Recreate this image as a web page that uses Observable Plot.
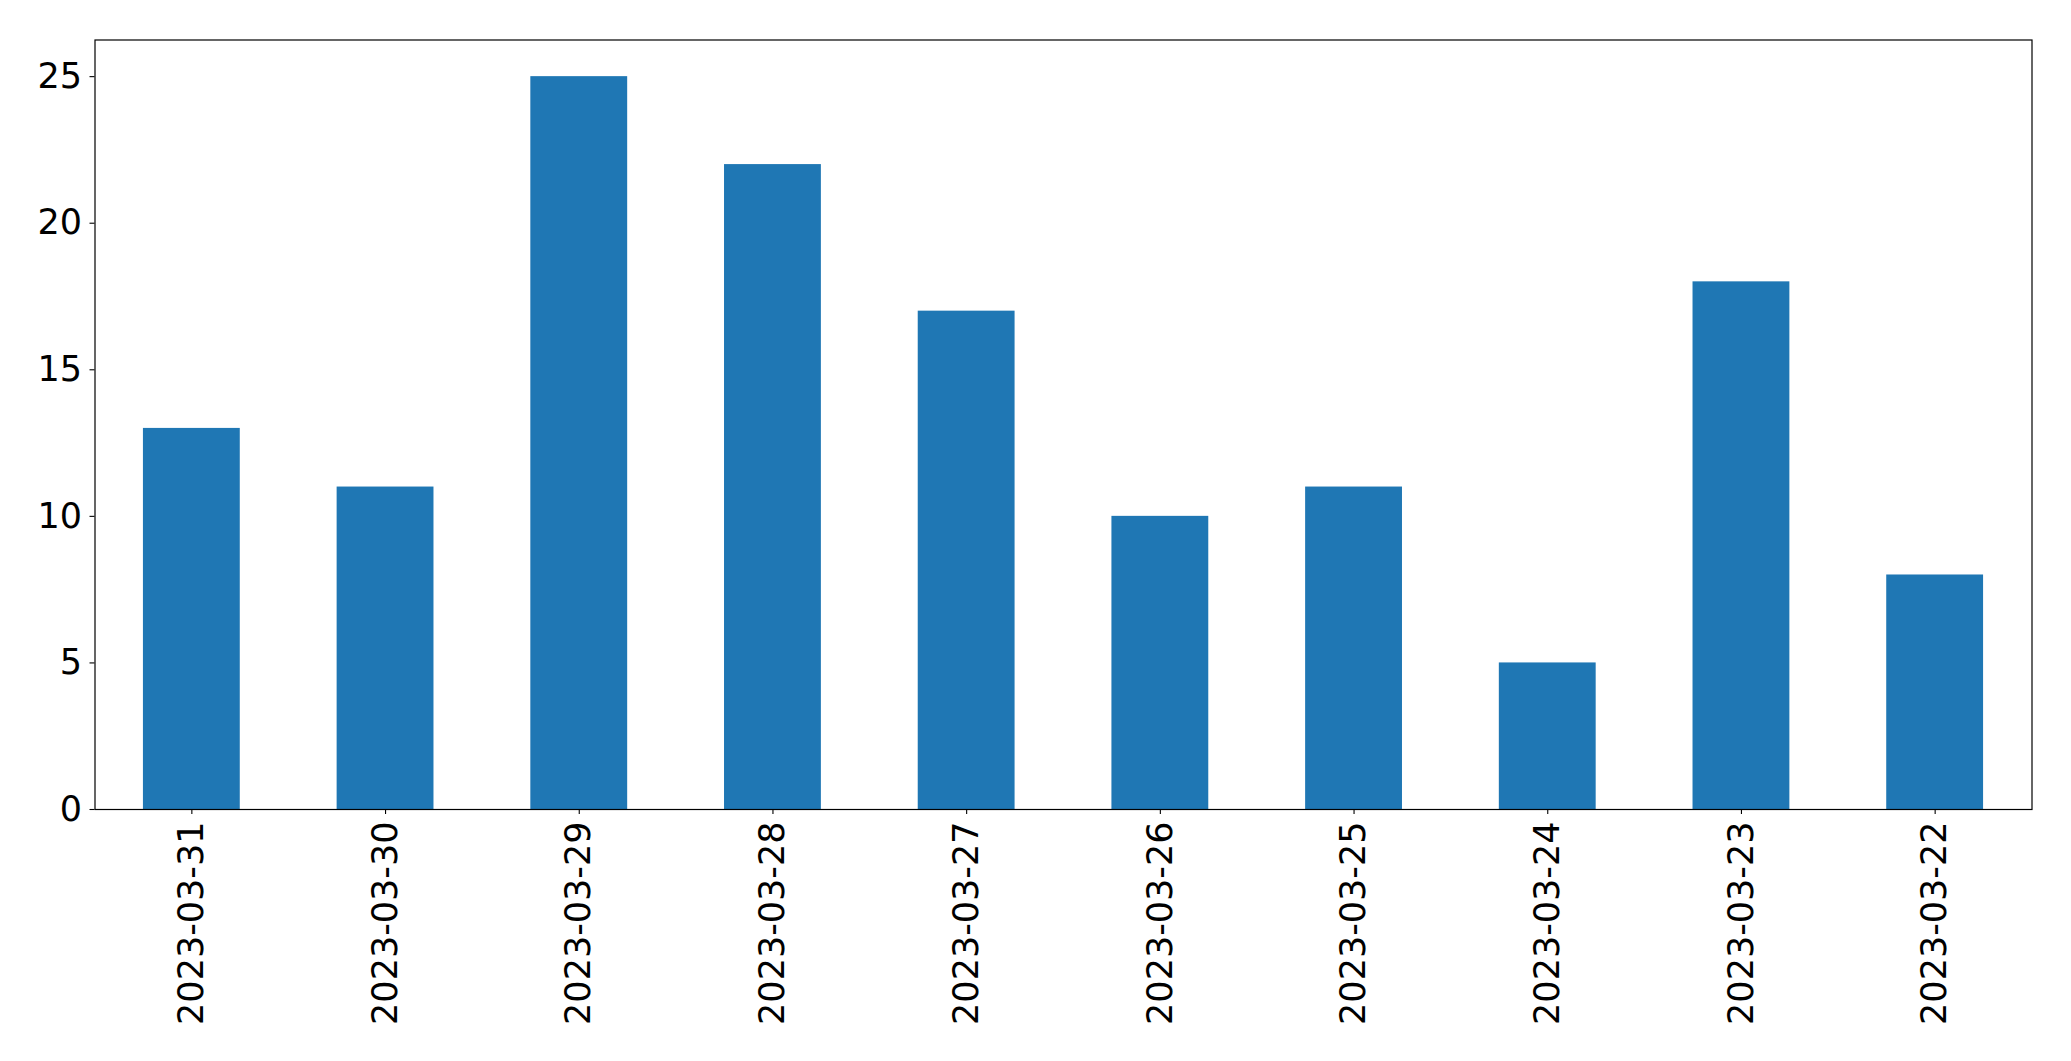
<!DOCTYPE html>
<html>
<head>
<meta charset="utf-8">
<script src="https://cdn.jsdelivr.net/npm/d3@7"></script>
<script src="https://cdn.jsdelivr.net/npm/@observablehq/plot@0.6"></script>
<style>
  html, body { margin: 0; padding: 0; background: #fff; }
  #chart svg { display: block; }
</style>
</head>
<body>
<div id="chart"></div>
<script>
const dates = ["2023-03-31", "2023-03-30", "2023-03-29", "2023-03-28", "2023-03-27", "2023-03-26", "2023-03-25", "2023-03-24", "2023-03-23", "2023-03-22"];
const counts = [13, 11, 25, 22, 17, 10, 11, 5, 18, 8];
const yTicks = [0, 5, 10, 15, 20, 25];

const data = dates.map((d, i) => ({date: d, value: counts[i]}));

const chart = Plot.plot({
  width: 2071,
  height: 1061,
  marginLeft: 94.5,
  marginRight: 39.5,
  marginTop: 39.5,
  marginBottom: 252,
  style: {fontFamily: "DejaVu Sans", fontSize: "35px", color: "#000", background: "#fff"},
  x: {domain: dates, paddingInner: 0.5, paddingOuter: 0.25, round: false, label: null},
  y: {domain: [0, 26.25], label: null},
  marks: [
    Plot.barY(data, {x: "date", y: "value", fill: "#1f77b4"}),
    Plot.axisY({ticks: yTicks, tickSize: 5, tickPadding: 8, fontSize: 35, strokeWidth: 1.1, label: null}),
    Plot.axisX({tickSize: 5, tickPadding: 7, tickRotate: -90, fontSize: 35, strokeWidth: 1.1, label: null}),
    Plot.frame({stroke: "#000", strokeWidth: 1.2})
  ]
});
document.getElementById("chart").appendChild(chart);
</script>
</body>
</html>
